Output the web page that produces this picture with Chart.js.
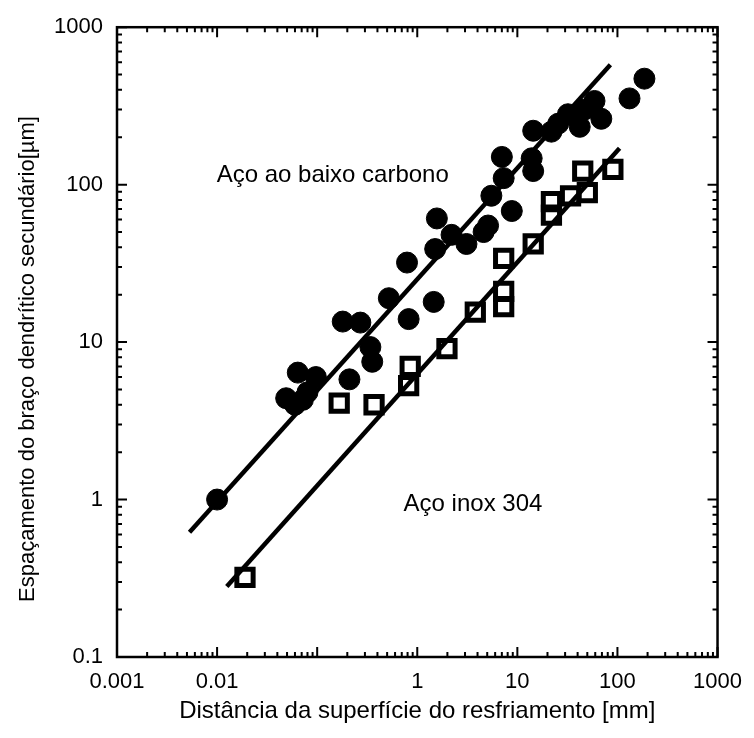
<!DOCTYPE html>
<html>
<head>
<meta charset="utf-8">
<title>Espaçamento dendrítico secundário</title>
<script src="https://cdn.jsdelivr.net/npm/chart.js@4.4.1/dist/chart.umd.min.js"></script>
<style>
    html, body { margin: 0; padding: 0; background: #fff; }
</style>
</head>
<body>
<canvas id="chart" width="754" height="738"></canvas>
<script>
// values (log-log axes)
const carbonX = [0.01, 0.049, 0.06, 0.072, 0.064, 0.097, 0.08, 0.21, 0.18, 0.27, 0.34, 0.355, 0.52, 0.82, 0.79,
    1.46, 1.51, 1.57, 2.2, 3.1, 4.6, 5.1, 5.5, 7.0, 7.3, 8.8, 13.9, 14.4, 14.4, 21.9, 25.6, 32, 42, 47, 59, 69, 132, 186];
const carbonY = [1.0, 4.4, 4.0, 4.3, 6.4, 6.0, 4.8, 5.8, 13.5, 13.3, 9.3, 7.5, 19, 14, 32,
    18, 39, 61, 48, 42, 50, 55, 85, 150, 110, 68, 147, 122, 220, 217, 244, 280, 233, 300, 340, 262, 353, 471];

const inoxX = [0.019, 0.166, 0.37, 0.82, 0.85, 1.98, 3.8, 7.3, 7.3, 7.3, 14.4, 21.9, 21.9, 34, 50, 45, 90];
const inoxY = [0.32, 4.1, 4.0, 5.3, 7.0, 9.1, 15.5, 16.8, 21, 34, 42, 64, 78, 85, 89, 122, 125];

// fitted lines (end points)
const carbonLineX = [0.0053, 85];
const carbonLineY = [0.62, 578];
const inoxLineX = [0.0125, 105];
const inoxLineY = [0.28, 170];

const xTickValues = [0.001, 0.01, 0.1, 1, 10, 100, 1000];
const xTickLabels = ["0.001", "0.01", "", "1", "10", "100", "1000"];
const yTickValues = [0.1, 1, 10, 100, 1000];
const yTickLabels = ["0.1", "1", "10", "100", "1000"];

const annotText = ["Aço ao baixo carbono", "Aço inox 304"];
const annotX = [0.0099, 0.73];
const annotY = [114, 0.93];

const yTitle = "Espaçamento do braço dendrítico secundário[µm]";

const toPoints = (xs, ys) => xs.map((x, i) => ({ x: x, y: ys[i] }));

Chart.defaults.font.family = "'Liberation Sans', Arial, sans-serif";
Chart.defaults.color = "#000";

// frame with inward ticks on all four sides, the two text labels and the y title
const framePlugin = {
    id: "framePlugin",
    afterDatasetsDraw(chart) {
        const ctx = chart.ctx;
        const a = chart.chartArea;
        const xs = chart.scales.x, ys = chart.scales.y;
        ctx.save();
        ctx.strokeStyle = "#000";
        ctx.lineWidth = 2;

        function ticksFor(scale) {
            let out = [];
            const lo = Math.floor(Math.log10(scale.min)), hi = Math.ceil(Math.log10(scale.max));
            for (let d = lo; d <= hi; d++) {
                for (let k = 1; k <= 9; k++) {
                    const v = k * Math.pow(10, d);
                    if (v < scale.min * 0.999 || v > scale.max * 1.001) continue;
                    out.push({ p: scale.getPixelForValue(v), major: k === 1 });
                }
            }
            return out;
        }

        ctx.beginPath();
        ticksFor(xs).forEach(t => {
            const len = t.major ? 10 : 5;
            ctx.moveTo(t.p, a.bottom); ctx.lineTo(t.p, a.bottom - len);
            ctx.moveTo(t.p, a.top); ctx.lineTo(t.p, a.top + len);
        });
        ticksFor(ys).forEach(t => {
            const len = t.major ? 10 : 5;
            ctx.moveTo(a.left, t.p); ctx.lineTo(a.left + len, t.p);
            ctx.moveTo(a.right, t.p); ctx.lineTo(a.right - len, t.p);
        });
        ctx.stroke();

        ctx.lineWidth = 2.5;
        ctx.strokeRect(a.left, a.top, a.right - a.left, a.bottom - a.top);

        ctx.fillStyle = "#000";
        ctx.font = "24px 'Liberation Sans', Arial, sans-serif";
        ctx.textAlign = "left";
        ctx.textBaseline = "middle";
        annotText.forEach((t, i) => {
            ctx.fillText(t, xs.getPixelForValue(annotX[i]), ys.getPixelForValue(annotY[i]));
        });

        // y axis title, a little below the middle of the axis as in the original
        ctx.font = "22px 'Liberation Sans', Arial, sans-serif";
        ctx.textAlign = "center";
        ctx.translate(28, 359);
        ctx.rotate(-Math.PI / 2);
        ctx.fillText(yTitle, 0, 0);
        ctx.restore();
    }
};

new Chart(document.getElementById("chart").getContext("2d"), {
    type: "scatter",
    data: {
        datasets: [
            {
                label: "Aço ao baixo carbono",
                data: toPoints(carbonX, carbonY),
                pointStyle: "circle",
                pointRadius: 10.5,
                backgroundColor: "#000",
                borderColor: "#000",
                borderWidth: 1,
                order: 3
            },
            {
                label: "Aço inox 304",
                data: toPoints(inoxX, inoxY),
                pointStyle: "rect",
                pointRadius: 11.5,
                backgroundColor: "rgba(255,255,255,0)",
                borderColor: "#000",
                borderWidth: 5,
                order: 2
            },
            {
                label: "ajuste carbono",
                data: toPoints(carbonLineX, carbonLineY),
                showLine: true,
                pointRadius: 0,
                borderColor: "#000",
                borderWidth: 4.5,
                order: 1
            },
            {
                label: "ajuste inox",
                data: toPoints(inoxLineX, inoxLineY),
                showLine: true,
                pointRadius: 0,
                borderColor: "#000",
                borderWidth: 4.5,
                order: 1
            }
        ]
    },
    options: {
        responsive: false,
        animation: false,
        layout: { padding: { top: 17, right: 34, left: 0, bottom: 0 } },
        plugins: {
            legend: { display: false },
            tooltip: { enabled: false }
        },
        scales: {
            x: {
                type: "logarithmic",
                min: 0.001,
                max: 1000,
                afterFit: s => { s.height = 81; },
                afterBuildTicks: s => { s.ticks = xTickValues.map(v => ({ value: v })); },
                grid: { display: false, drawTicks: false },
                border: { display: false },
                ticks: {
                    padding: 12,
                    maxRotation: 0,
                    autoSkip: false,
                    font: { size: 22 },
                    callback: v => xTickLabels[xTickValues.indexOf(v)]
                },
                title: {
                    display: true,
                    text: "Distância da superfície do resfriamento [mm]",
                    font: { size: 24 },
                    padding: { top: 0, bottom: 12 }
                }
            },
            y: {
                type: "logarithmic",
                min: 0.1,
                max: 1000,
                afterFit: s => { s.width = 117; },
                afterBuildTicks: s => { s.ticks = yTickValues.map(v => ({ value: v })); },
                grid: { display: false, drawTicks: false },
                border: { display: false },
                ticks: {
                    padding: 14,
                    autoSkip: false,
                    font: { size: 22 },
                    callback: v => yTickLabels[yTickValues.indexOf(v)]
                },
                title: { display: false }
            }
        }
    },
    plugins: [framePlugin]
});
</script>
</body>
</html>
